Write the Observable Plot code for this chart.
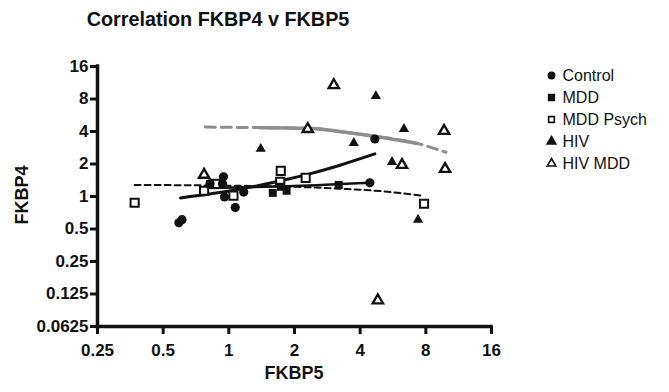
<!DOCTYPE html>
<html>
<head>
<meta charset="utf-8">
<script src="https://cdn.jsdelivr.net/npm/d3@7"></script>
<script src="https://cdn.jsdelivr.net/npm/@observablehq/plot@0.6"></script>
<style>
  html, body { margin: 0; padding: 0; background: #fff; }
  #wrap { position: relative; width: 669px; height: 392px; overflow: hidden; font-family: 'Liberation Sans', Arial, Helvetica, sans-serif; color: #111; }
  #title { position: absolute; left: 0; width: 436px; top: 8px; text-align: center; font-weight: bold; font-size: 19.8px; }
  #ylab { position: absolute; left: 22px; top: 195px; transform: translate(-50%, -50%) rotate(-90deg); font-weight: bold; font-size: 18px; white-space: nowrap; }
  #xlab { position: absolute; left: 294px; top: 373px; transform: translate(-50%, -50%); font-weight: bold; font-size: 18px; }
  #chart { position: absolute; left: 0; top: 0; }
  #legend { position: absolute; left: 540px; top: 62px; }
</style>
</head>
<body>
<div id="wrap">
  <div id="chart"></div>
  <div id="title">Correlation FKBP4 v FKBP5</div>
  <div id="ylab">FKBP4</div>
  <div id="xlab">FKBP5</div>
  <div id="legend"></div>
</div>
<script>
// ---- tick values and labels ----
const xTicks = [0.25, 0.5, 1, 2, 4, 8, 16];
const xTickLabels = ["0.25", "0.5", "1", "2", "4", "8", "16"];
const yTicks = [0.0625, 0.125, 0.25, 0.5, 1, 2, 4, 8, 16];
const yTickLabels = ["0.0625", "0.125", "0.25", "0.5", "1", "2", "4", "8", "16"];

// ---- groups ----
const groups = ["Control", "MDD", "MDD Psych", "HIV", "HIV MDD"];

// ---- points (FKBP5 = x, FKBP4 = y) ----
const controlX = [0.59, 0.61, 0.82, 0.945, 0.936, 0.955, 1.07, 1.17, 4.43, 4.67];
const controlY = [0.57, 0.61, 1.31, 1.52, 1.31, 0.99, 0.79, 1.10, 1.34, 3.41];

const mddX = [0.82, 1.59, 1.73, 1.84, 3.19];
const mddY = [1.31, 1.08, 1.23, 1.13, 1.28];

const psychX = [0.37, 0.77, 0.87, 1.05, 1.73, 1.72, 2.25, 7.85];
const psychY = [0.875, 1.13, 1.31, 1.02, 1.73, 1.37, 1.49, 0.856];

const hivX = [1.40, 3.74, 4.72, 6.35, 5.60, 7.37];
const hivY = [2.76, 3.13, 8.51, 4.22, 2.09, 0.61];

const hivMddX = [0.77, 2.30, 3.03, 6.22, 9.7, 9.8, 4.82];
const hivMddY = [1.59, 4.22, 10.75, 1.96, 4.05, 1.80, 0.109];

// ---- fitted curves ----
const controlFitX = [0.60, 1.02, 1.73, 2.37, 3.26, 4.67];
const controlFitY = [0.97, 1.13, 1.40, 1.63, 1.96, 2.48];

const mddFitX = [0.82, 2.0, 4.43];
const mddFitY = [1.20, 1.25, 1.34];

const psychFitX = [0.37, 1.0, 2.0, 3.26, 5.0, 6.5, 7.85];
const psychFitY = [1.28, 1.26, 1.23, 1.18, 1.12, 1.06, 1.01];

const hivFitX = [1.40, 2.30, 3.63, 4.64, 7.37];
const hivFitY = [4.34, 4.28, 3.87, 3.61, 3.09];

const hivMddFitX = [0.78, 1.40, 2.30, 3.63, 4.64, 7.37, 9.9];
const hivMddFitY = [4.40, 4.34, 4.28, 3.87, 3.61, 3.09, 2.57];

// ---- build tables ----
const pts = (xs, ys) => xs.map((x, i) => ({x, y: ys[i]}));
const control = pts(controlX, controlY);
const mdd = pts(mddX, mddY);
const psych = pts(psychX, psychY);
const hiv = pts(hivX, hivY);
const hivMdd = pts(hivMddX, hivMddY);
const controlFit = pts(controlFitX, controlFitY);
const mddFit = pts(mddFitX, mddFitY);
const psychFit = pts(psychFitX, psychFitY);
const hivFit = pts(hivFitX, hivFitY);
const hivMddFit = pts(hivMddFitX, hivMddFitY);

const gray = "#8e8e8e";
const ink = "#111";

const chart = Plot.plot({
  width: 669,
  height: 392,
  marginLeft: 97,
  marginRight: 178,
  marginTop: 66,
  marginBottom: 66,
  x: {type: "log", base: 2, domain: [0.25, 16]},
  y: {type: "log", base: 2, domain: [0.0625, 16]},
  style: {fontFamily: "'Liberation Sans', Arial, sans-serif", fontSize: "17px", fontWeight: "bold", color: ink, background: "transparent", overflow: "visible"},
  marks: [
    Plot.axisX({ticks: xTicks, tickFormat: d => xTickLabels[xTicks.indexOf(d)], tickSize: 8, tickPadding: 9, strokeWidth: 3, label: null, fill: ink}),
    Plot.axisY({ticks: yTicks, tickFormat: d => yTickLabels[yTicks.indexOf(d)], tickSize: 7, tickPadding: 2, strokeWidth: 3, label: null, fill: ink}),
    Plot.ruleX([0.25], {stroke: ink, strokeWidth: 3.5, strokeLinecap: "square"}),
    Plot.ruleY([0.0625], {stroke: ink, strokeWidth: 3.5, strokeLinecap: "square"}),
    // fit lines
    Plot.line(hivMddFit, {x: "x", y: "y", stroke: gray, strokeWidth: 3, strokeDasharray: "10,6", curve: "monotone-x"}),
    Plot.line(hivFit, {x: "x", y: "y", stroke: gray, strokeWidth: 3.5, curve: "monotone-x"}),
    Plot.line(psychFit, {x: "x", y: "y", stroke: ink, strokeWidth: 2, strokeDasharray: "6,4", curve: "monotone-x"}),
    Plot.line(mddFit, {x: "x", y: "y", stroke: ink, strokeWidth: 2.5, curve: "monotone-x"}),
    Plot.line(controlFit, {x: "x", y: "y", stroke: ink, strokeWidth: 3, curve: "monotone-x"}),
    // points
    Plot.dot(psych, {x: "x", y: "y", symbol: "square", r: 4.6, fill: "white", stroke: ink, strokeWidth: 2}),
    Plot.dot(mdd, {x: "x", y: "y", symbol: "square", r: 4.5, fill: ink, stroke: "none"}),
    Plot.dot(control, {x: "x", y: "y", symbol: "circle", r: 4.6, fill: ink, stroke: "none"}),
    Plot.dot(hiv, {x: "x", y: "y", symbol: "triangle", r: 3.8, fill: ink, stroke: "none"}),
    Plot.dot(hivMdd, {x: "x", y: "y", symbol: "triangle", r: 3.8, fill: "white", stroke: ink, strokeWidth: 2.4})
  ]
});
document.getElementById("chart").appendChild(chart);

// ---- legend ----
const legendSymbols = ["circle", "square", "square", "triangle", "triangle"];
const legendFill = [ink, ink, "white", ink, "white"];
const legendRows = groups.map((g, i) => ({g, s: legendSymbols[i], f: legendFill[i]}));
const legend = Plot.plot({
  width: 129,
  height: 110,
  margin: 0,
  marginTop: 13,
  marginBottom: 9,
  x: {domain: [0, 1], axis: null},
  y: {domain: groups, type: "point", padding: 0, axis: null},
  style: {fontFamily: "'Liberation Sans', Arial, sans-serif", fontSize: "16px", color: ink, background: "transparent", overflow: "visible"},
  marks: [
    Plot.dot(legendRows, {x: () => 0, y: "g", symbol: "s", r: 3.2, fill: "f", stroke: ink, strokeWidth: 1.6, dx: 11}),
    Plot.text(legendRows, {x: () => 0, y: "g", text: "g", textAnchor: "start", dx: 22, fill: ink})
  ]
});
document.getElementById("legend").appendChild(legend);
</script>
</body>
</html>
